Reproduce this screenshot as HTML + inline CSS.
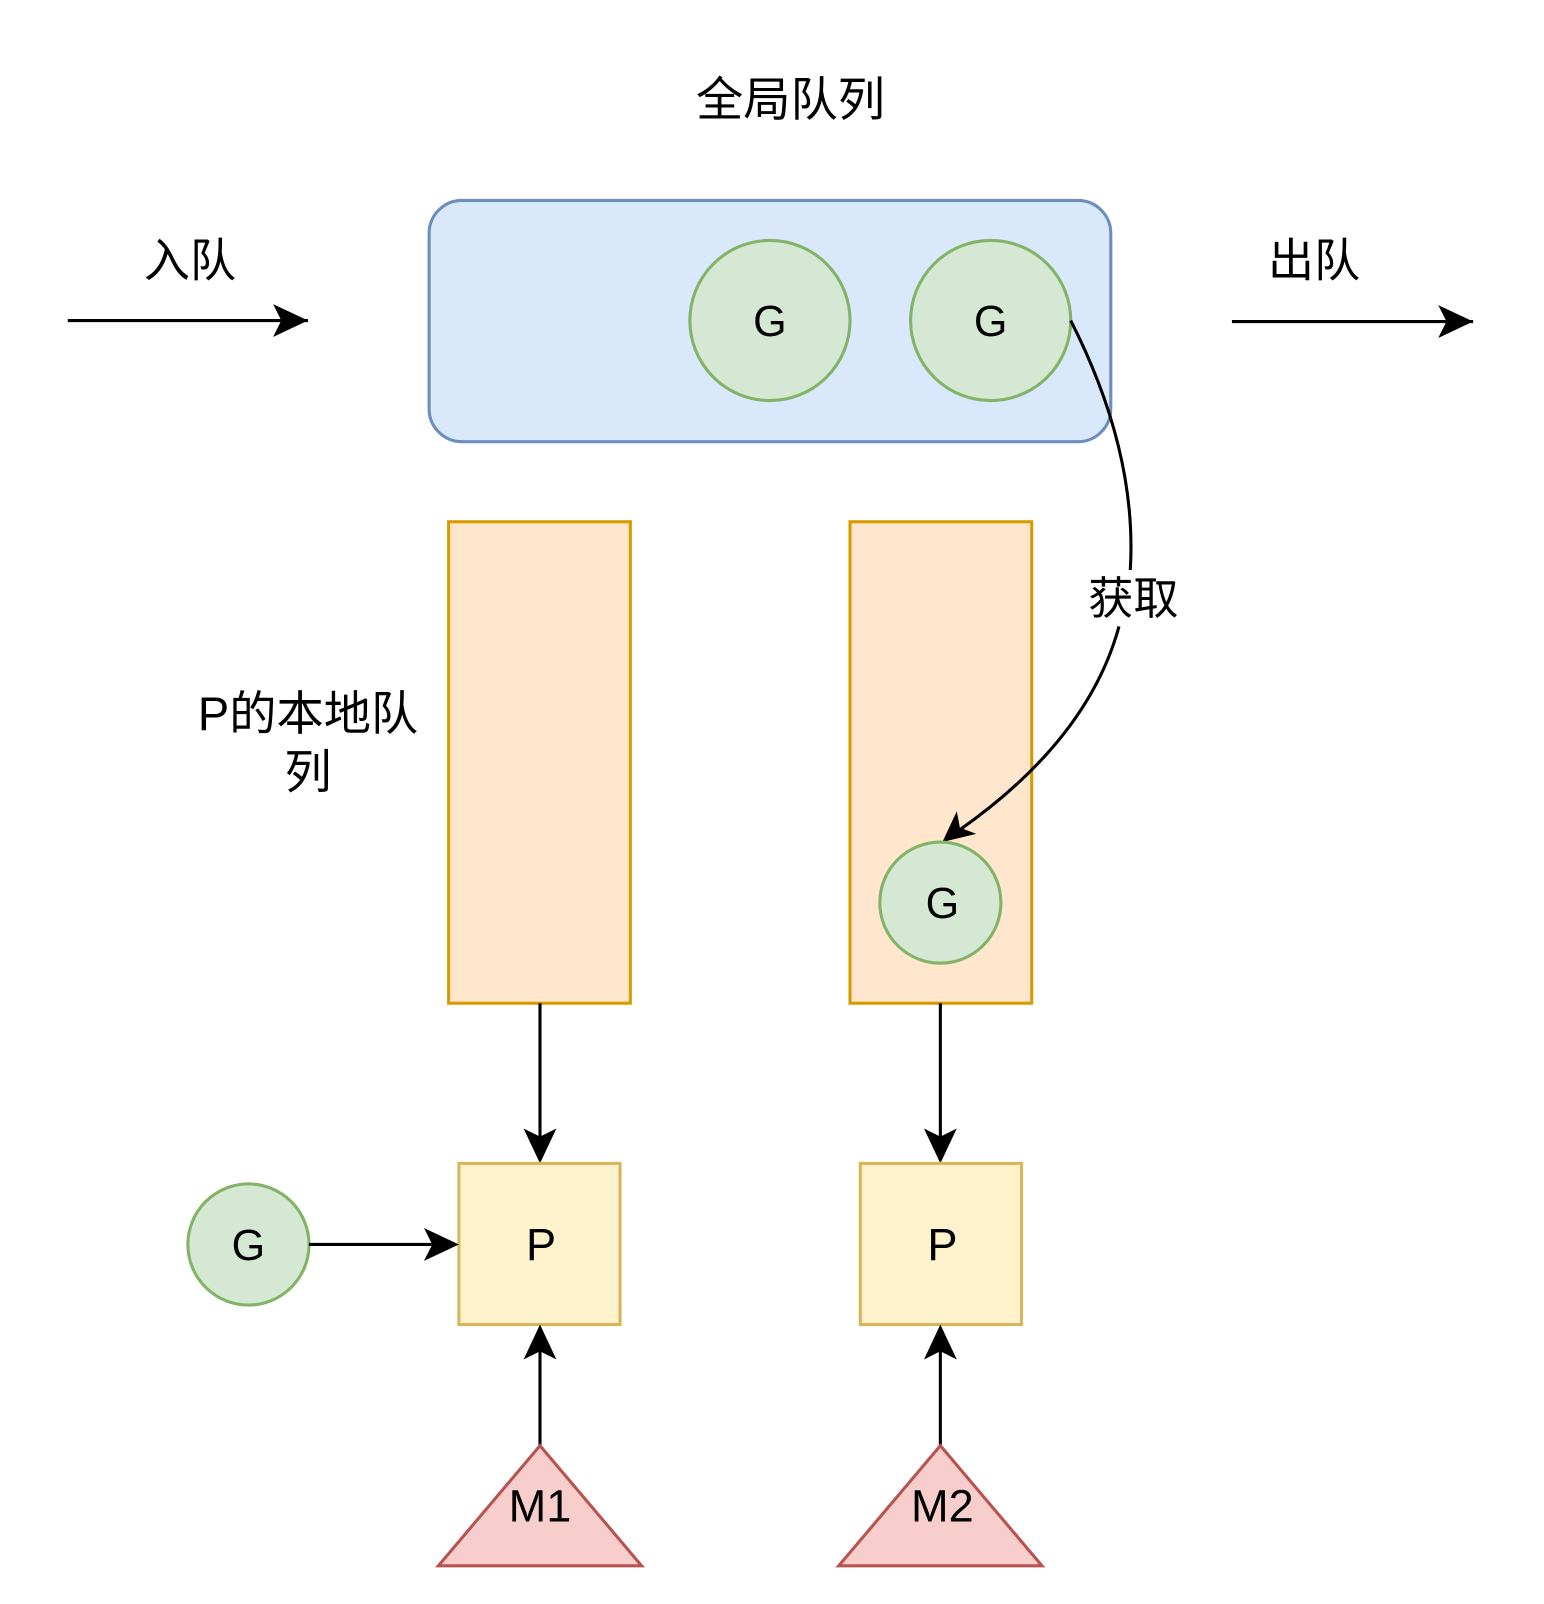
<!DOCTYPE html>
<html><head><meta charset="utf-8"><style>html,body{margin:0;padding:0;background:#fff}svg{display:block}</style></head>
<body>
<svg width="1544" height="1604" viewBox="0 0 1504 1562" xmlns="http://www.w3.org/2000/svg" font-family="'Liberation Sans','Noto Sans CJK SC',sans-serif">
<text x="770" y="113" font-size="46" text-anchor="middle">全局队列</text>
<text x="185" y="269" font-size="45" text-anchor="middle">入队</text>
<text x="1280" y="269" font-size="45" text-anchor="middle">出队</text>
<path d="M66,312 L300,312" stroke="#000" stroke-width="3" fill="none"/>
<path d="M266,296 L300,312 L266,328 L274,312 Z" fill="#000"/>
<path d="M1200,313 L1435,313" stroke="#000" stroke-width="3" fill="none"/>
<path d="M1401,297 L1435,313 L1401,329 L1409,313 Z" fill="#000"/>
<rect x="418" y="195" width="664" height="235" rx="32" fill="#dae8fc" stroke="#6c8ebf" stroke-width="3"/>
<circle cx="750" cy="312" r="78" fill="#d5e8d4" stroke="#82b366" stroke-width="3"/>
<circle cx="965" cy="312" r="78" fill="#d5e8d4" stroke="#82b366" stroke-width="3"/>
<text x="750" y="327" font-size="42" text-anchor="middle">G</text>
<text x="965" y="327" font-size="42" text-anchor="middle">G</text>
<rect x="437" y="508" width="177" height="469" fill="#ffe6cc" stroke="#d79b00" stroke-width="3"/>
<rect x="828" y="508" width="177" height="469" fill="#ffe6cc" stroke="#d79b00" stroke-width="3"/>
<text x="300" y="711" font-size="46" text-anchor="middle">P的本地队</text>
<text x="300" y="768" font-size="46" text-anchor="middle">列</text>
<path d="M1043,312 Q1108,440 1101,555" stroke="#000" stroke-width="3" fill="none"/>
<path d="M1090,610 Q1060,720 935,808" stroke="#000" stroke-width="3" fill="none"/>
<path d="M918,820 L932,790 L935,806 L951,812 Z" fill="#000"/>
<text x="1104" y="598" font-size="44" text-anchor="middle">获取</text>
<circle cx="916" cy="879" r="59" fill="#d5e8d4" stroke="#82b366" stroke-width="3"/>
<text x="918" y="894" font-size="42" text-anchor="middle">G</text>
<path d="M526,977 L526,1125" stroke="#000" stroke-width="3"/>
<path d="M510,1099 L526,1133 L542,1099 L526,1107 Z" fill="#000"/>
<path d="M916,977 L916,1125" stroke="#000" stroke-width="3"/>
<path d="M900,1099 L916,1133 L932,1099 L916,1107 Z" fill="#000"/>
<rect x="447" y="1133" width="157" height="157" fill="#fff2cc" stroke="#d6b656" stroke-width="3"/>
<rect x="838" y="1133" width="157" height="157" fill="#fff2cc" stroke="#d6b656" stroke-width="3"/>
<text x="527" y="1227" font-size="44" text-anchor="middle">P</text>
<text x="918" y="1227" font-size="44" text-anchor="middle">P</text>
<circle cx="242" cy="1212" r="59" fill="#d5e8d4" stroke="#82b366" stroke-width="3"/>
<text x="242" y="1227" font-size="42" text-anchor="middle">G</text>
<path d="M301,1212 L440,1212" stroke="#000" stroke-width="3"/>
<path d="M413,1196 L447,1212 L413,1228 L421,1212 Z" fill="#000"/>
<path d="M526,1408 L526,1298" stroke="#000" stroke-width="3"/>
<path d="M510,1324 L526,1290 L542,1324 L526,1316 Z" fill="#000"/>
<path d="M916,1408 L916,1298" stroke="#000" stroke-width="3"/>
<path d="M900,1324 L916,1290 L932,1324 L916,1316 Z" fill="#000"/>
<path d="M526,1408 L625,1525 L427,1525 Z" fill="#f8cecc" stroke="#b85450" stroke-width="3"/>
<path d="M916,1408 L1015,1525 L817,1525 Z" fill="#f8cecc" stroke="#b85450" stroke-width="3"/>
<text x="526" y="1482" font-size="44" text-anchor="middle">M1</text>
<text x="918" y="1482" font-size="44" text-anchor="middle">M2</text>
</svg>
</body></html>
